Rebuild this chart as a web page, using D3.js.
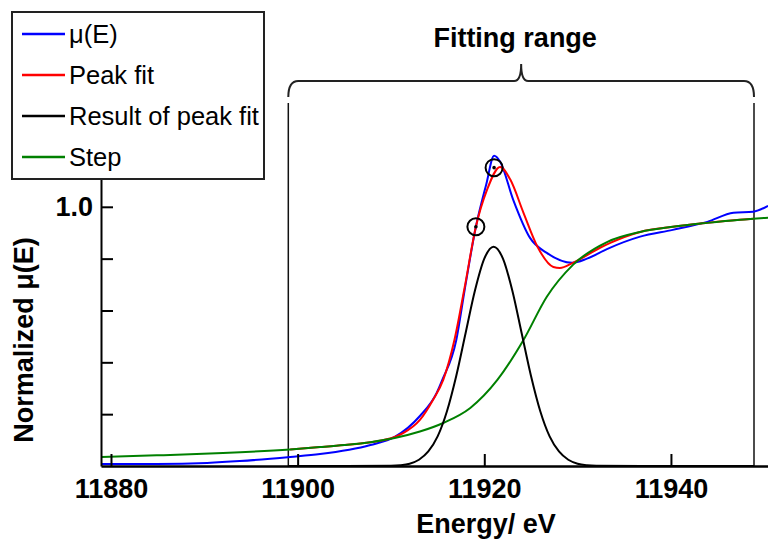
<!DOCTYPE html>
<html>
<head>
<meta charset="utf-8">
<script src="https://cdn.jsdelivr.net/npm/d3@7"></script>
<style>
  body { margin: 0; background: #fff; }
  text { font-family: "Liberation Sans", Arial, sans-serif; }
</style>
</head>
<body>
<div id="chart"></div>
<script>
// ---- data ----
const muEnergy = [11879.0, 11884.9, 11890.3, 11893.8, 11899.2, 11902.4, 11907.8, 11910.4, 11913.1, 11914.9, 11915.5, 11917.0, 11917.9, 11919.1, 11920.2, 11921.05, 11921.7, 11923.1, 11924.9, 11926.7, 11929.4, 11931.0, 11933.2, 11936.7, 11940.2, 11943.9, 11946.7, 11948.8, 11950.4];
const muValue  = [0.008, 0.008, 0.012, 0.019, 0.035, 0.046, 0.081, 0.112, 0.193, 0.282, 0.332, 0.486, 0.680, 0.923, 1.085, 1.197, 1.174, 1.027, 0.880, 0.822, 0.784, 0.800, 0.838, 0.885, 0.911, 0.942, 0.977, 0.981, 1.004];

const fitEnergy = [11899.2, 11902.4, 11905.0, 11907.8, 11910.4, 11911.3, 11913.1, 11914.5, 11915.6, 11916.8, 11917.9, 11919.1, 11920.3, 11921.7, 11922.8, 11924.2, 11925.7, 11927.4, 11928.1, 11929.5, 11932.4, 11933.5, 11936.7, 11940.2, 11943.9, 11947.4, 11948.9];
const fitValue  = [0.064, 0.073, 0.081, 0.092, 0.112, 0.127, 0.178, 0.255, 0.332, 0.486, 0.690, 0.923, 1.066, 1.154, 1.104, 0.977, 0.846, 0.768, 0.764, 0.784, 0.842, 0.861, 0.903, 0.923, 0.938, 0.950, 0.954];

const peakEnergy = [11899.0, 11905, 11910, 11911, 11912, 11913, 11914, 11915, 11916, 11917, 11918, 11919, 11920, 11921, 11922, 11923, 11924, 11925, 11926, 11927, 11928, 11929, 11930, 11931, 11932, 11937, 11948.9];
const peakValue  = [0.0, 0.0, 0.001, 0.003, 0.009, 0.024, 0.056, 0.114, 0.211, 0.348, 0.513, 0.677, 0.800, 0.846, 0.800, 0.677, 0.513, 0.348, 0.211, 0.114, 0.056, 0.024, 0.009, 0.003, 0.001, 0.0, 0.0];

const stepEnergy = [11879.0, 11884.9, 11892.0, 11899.2, 11902.4, 11905.0, 11907.8, 11910.4, 11913.1, 11915.6, 11918.5, 11921.4, 11924.2, 11926.7, 11929.5, 11933.2, 11936.7, 11940.2, 11943.9, 11947.4, 11950.4];
const stepValue  = [0.035, 0.041, 0.050, 0.064, 0.073, 0.081, 0.092, 0.108, 0.133, 0.166, 0.224, 0.332, 0.486, 0.653, 0.776, 0.865, 0.903, 0.923, 0.938, 0.950, 0.958];

const markerEnergy = [11919.1, 11921.05];
const markerValue  = [0.923, 1.151];

const fitRange = [11899.0, 11948.9];
const xTicks = [11880, 11900, 11920, 11940];
const yTicks = [0.2, 0.4, 0.6, 0.8, 1.0];

const legendNames = ["\u03bc(E)", "Peak fit", "Result of peak fit", "Step"];
const legendColors = ["#0000ff", "#ff0000", "#000000", "#008000"];

// ---- layout ----
const W = 768, H = 540;

const svg = d3.select("#chart")
  .append("svg")
  .attr("width", W)
  .attr("height", H);

const x = d3.scaleLinear()
  .domain([11878.93, 11950.4])
  .range([101, 768]);

const y = d3.scaleLinear()
  .domain([0, 1.74])
  .range([466, 15]);

const zip = (e, v) => e.map((d, i) => [d, v[i]]);

const line = d3.line()
  .x(d => x(d[0]))
  .y(d => y(d[1]))
  .curve(d3.curveMonotoneX);

// fitting range vertical lines
svg.selectAll(".range")
  .data(fitRange)
  .enter()
  .append("line")
  .attr("x1", d => x(d))
  .attr("x2", d => x(d))
  .attr("y1", 103)
  .attr("y2", 466)
  .attr("stroke", "#111")
  .attr("stroke-width", 1.5);

// curly bracket above the range
const bx1 = x(fitRange[0]), bx2 = x(fitRange[1]), bm = (bx1 + bx2) / 2;
svg.append("path")
  .attr("d", `M${bx1},97 Q${bx1},81 ${bx1 + 10},81 L${bm - 7},81 Q${bm},81 ${bm},64 Q${bm},81 ${bm + 7},81 L${bx2 - 10},81 Q${bx2},81 ${bx2},97`)
  .attr("fill", "none")
  .attr("stroke", "#222")
  .attr("stroke-width", 2);

svg.append("text")
  .attr("x", bm - 6)
  .attr("y", 47)
  .attr("text-anchor", "middle")
  .attr("font-size", 27)
  .attr("font-weight", "bold")
  .text("Fitting range");

// curves
svg.append("path")
  .datum(zip(muEnergy, muValue))
  .attr("d", line)
  .attr("fill", "none")
  .attr("stroke", "#0000ff")
  .attr("stroke-width", 2);

svg.append("path")
  .datum(zip(fitEnergy, fitValue))
  .attr("d", line)
  .attr("fill", "none")
  .attr("stroke", "#ff0000")
  .attr("stroke-width", 2);

svg.append("path")
  .datum(zip(stepEnergy, stepValue))
  .attr("d", line)
  .attr("fill", "none")
  .attr("stroke", "#008000")
  .attr("stroke-width", 2);

svg.append("path")
  .datum(zip(peakEnergy, peakValue))
  .attr("d", line)
  .attr("fill", "none")
  .attr("stroke", "#000")
  .attr("stroke-width", 2);

// marked points
const marks = svg.append("g")
  .selectAll("g")
  .data(zip(markerEnergy, markerValue))
  .enter()
  .append("g")
  .attr("transform", d => `translate(${x(d[0])},${y(d[1])})`);
marks.append("circle")
  .attr("r", 8.5)
  .attr("fill", "none")
  .attr("stroke", "#000")
  .attr("stroke-width", 2);
marks.append("circle")
  .attr("r", 1.8)
  .attr("fill", "#000");

// axes
const xAxis = svg.append("g")
  .attr("transform", "translate(0,466)")
  .call(d3.axisBottom(x)
    .tickValues(xTicks)
    .tickFormat(d3.format("d"))
    .tickSizeInner(-12)
    .tickSizeOuter(0)
    .tickPadding(13));
xAxis.select(".domain").attr("stroke", "#000").attr("stroke-width", 2.6);
xAxis.selectAll(".tick line").attr("stroke", "#000").attr("stroke-width", 2);
xAxis.selectAll(".tick text")
  .attr("font-size", 27)
  .attr("font-weight", "bold")
  .attr("font-family", "'Liberation Sans', Arial, sans-serif")
  .attr("fill", "#000");

const yAxis = svg.append("g")
  .attr("transform", "translate(101,0)")
  .call(d3.axisLeft(y)
    .tickValues(yTicks)
    .tickFormat(d => d === 1 ? "1.0" : "")
    .tickSizeInner(-12)
    .tickSizeOuter(0)
    .tickPadding(8));
yAxis.select(".domain").attr("stroke", "#000").attr("stroke-width", 2);
yAxis.selectAll(".tick line").attr("stroke", "#000").attr("stroke-width", 2);
yAxis.selectAll(".tick text")
  .attr("font-size", 27)
  .attr("font-weight", "bold")
  .attr("font-family", "'Liberation Sans', Arial, sans-serif")
  .attr("fill", "#000");

// axis titles
svg.append("text")
  .attr("x", 486)
  .attr("y", 533)
  .attr("text-anchor", "middle")
  .attr("font-size", 27)
  .attr("font-weight", "bold")
  .text("Energy/ eV");

svg.append("text")
  .attr("transform", "translate(33,340) rotate(-90)")
  .attr("text-anchor", "middle")
  .attr("font-size", 27)
  .attr("font-weight", "bold")
  .text("Normalized \u03bc(E)");

// legend
const legend = svg.append("g");
legend.append("rect")
  .attr("x", 12)
  .attr("y", 12)
  .attr("width", 252)
  .attr("height", 167)
  .attr("fill", "#fff")
  .attr("stroke", "#222")
  .attr("stroke-width", 2);

const rows = legend.selectAll(".row")
  .data(legendNames)
  .enter()
  .append("g")
  .attr("transform", (d, i) => `translate(0,${34 + i * 41})`);
rows.append("line")
  .attr("x1", 22)
  .attr("x2", 65)
  .attr("stroke", (d, i) => legendColors[i])
  .attr("stroke-width", 2.5);
rows.append("text")
  .attr("x", 69)
  .attr("dy", "0.36em")
  .attr("font-size", 25.5)
  .text(d => d);
</script>
</body>
</html>
